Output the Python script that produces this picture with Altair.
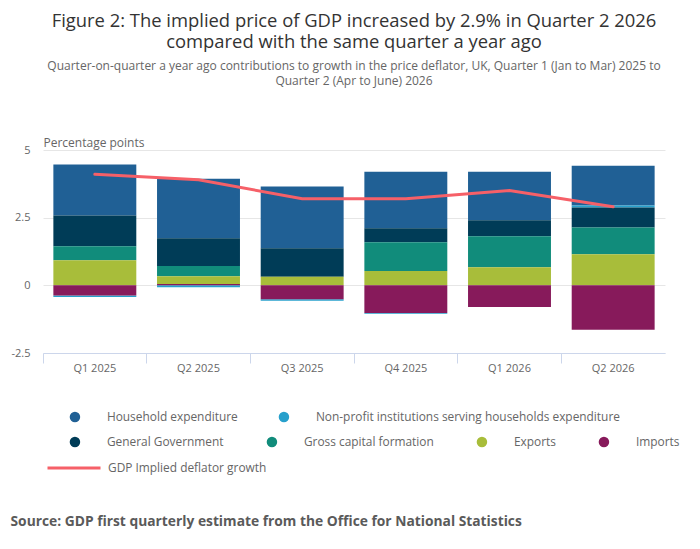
import altair as alt
import pandas as pd

quarters = ["Q1 2025", "Q2 2025", "Q3 2025", "Q4 2025", "Q1 2026", "Q2 2026"]
household = [1.88, 2.20, 2.28, 2.09, 1.80, 1.47]
npish = [-0.05, -0.07, -0.06, -0.03, 0.0, 0.07]
government = [1.14, 1.03, 1.05, 0.52, 0.59, 0.74]
gcf = [0.51, 0.37, 0.0, 1.06, 1.14, 0.99]
exports = [0.93, 0.29, 0.32, 0.53, 0.67, 1.15]
imports = [-0.38, 0.05, -0.51, -1.02, -0.80, -1.64]
deflator = [4.1, 3.9, 3.2, 3.2, 3.5, 2.9]

series_names = [
    "Household expenditure",
    "Non-profit institutions serving households expenditure",
    "General Government",
    "Gross capital formation",
    "Exports",
    "Imports",
]
series_values = [household, npish, government, gcf, exports, imports]
series_colors = ["#206095", "#27a0cc", "#003c57", "#118c7b", "#a8bd3a", "#871a5b"]
stack_rank = [5, 4, 3, 2, 1, 0]
line_name = "GDP Implied deflator growth"

rows = []
for name, vals, rank in zip(series_names, series_values, stack_rank):
    for q, v in zip(quarters, vals):
        rows.append({"quarter": q, "series": name, "value": v, "rank": rank})
bars_df = pd.DataFrame(rows)
line_df = pd.DataFrame({"quarter": quarters, "value": deflator, "series": line_name})

FONT = "Open Sans"
LABEL_COLOR = "#666666"

xscale = alt.Scale(domain=quarters, paddingInner=0, paddingOuter=0)
yscale = alt.Scale(domain=[-2.5, 5], nice=False)

legend_common = dict(orient="none", direction="horizontal", title=None,
                     symbolType="circle", symbolSize=110,
                     symbolStrokeWidth=0, symbolOpacity=1, labelOffset=26,
                     labelFont=FONT, labelFontSize=11.9, labelColor=LABEL_COLOR,
                     labelLimit=400, padding=0)

bars = alt.Chart(bars_df).mark_bar(width=alt.RelativeBandSize(0.8)).encode(
    x=alt.X("quarter:N", scale=xscale, sort=quarters,
            axis=alt.Axis(orient="bottom", title=None, ticks=False, domain=True,
                          domainColor="#ccd6eb", domainWidth=1, labelAngle=0,
                          labelFont=FONT, labelFontSize=11, labelColor=LABEL_COLOR,
                          labelPadding=9, grid=False)),
    y=alt.Y("value:Q", scale=yscale, stack="zero",
            axis=alt.Axis(values=[-2.5, 0, 2.5, 5], labelExpr="'' + datum.value",
                          grid=True, gridColor="#e6e6e6", gridWidth=1,
                          domain=False, ticks=False, labelPadding=13,
                          labelFont=FONT, labelFontSize=11, labelColor=LABEL_COLOR,
                          title="Percentage points", titleAngle=0, titleAlign="left",
                          titleAnchor="start", titleX=0, titleY=-4,
                          titleBaseline="alphabetic",
                          titleFont=FONT, titleFontSize=12, titleFontWeight="normal",
                          titleColor=LABEL_COLOR)),
    color=alt.Color("series:N",
                    scale=alt.Scale(domain=series_names, range=series_colors),
                    legend=alt.Legend(values=series_names[2:], legendX=26, legendY=286,
                                      columnPadding=42, **legend_common)),
    order=alt.Order("rank:Q", sort="ascending"),
)

# invisible layer that carries the first legend row
legend_row1 = alt.Chart(bars_df).mark_circle(size=0, opacity=0).encode(
    x=alt.X("quarter:N", scale=xscale, sort=quarters, axis=None),
    y=alt.Y("value:Q", scale=yscale, axis=None),
    fill=alt.Fill("series:N",
                  scale=alt.Scale(domain=series_names[:2], range=series_colors[:2]),
                  legend=alt.Legend(legendX=26, legendY=261, columnPadding=40,
                                    **legend_common)),
).transform_filter(
    alt.FieldOneOfPredicate(field="series", oneOf=series_names[:2])
)

line = alt.Chart(line_df).mark_line(strokeWidth=3, strokeCap="round").encode(
    x=alt.X("quarter:N", scale=xscale, sort=quarters,
            axis=alt.Axis(orient="bottom", labels=False, ticks=True, tickSize=10,
                          tickColor="#ccd6eb", tickWidth=1, bandPosition=0,
                          domain=False, grid=False,
                          title="Source: GDP first quarterly estimate from the Office for National Statistics",
                          titleAnchor="start", titleAlign="left", titleX=-33, titleY=172,
                          titleBaseline="alphabetic",
                          titleFont=FONT, titleFontSize=13.8, titleFontWeight="bold",
                          titleColor="#5a5a5a")),
    y=alt.Y("value:Q", scale=yscale, axis=None),
    stroke=alt.Stroke("series:N",
                      scale=alt.Scale(domain=[line_name], range=["#f66068"]),
                      legend=alt.Legend(orient="none", legendX=3, legendY=290,
                                        title=None, symbolType="stroke",
                                        symbolSize=2809, symbolStrokeWidth=3,
                                        labelOffset=6, labelFont=FONT,
                                        labelFontSize=11.9, labelColor=LABEL_COLOR,
                                        padding=0)),
)

chart = alt.layer(bars, legend_row1, line).resolve_axis(
    x="independent", y="independent"
).resolve_legend(
    color="independent", fill="independent", stroke="independent"
).resolve_scale(
    color="independent", fill="independent", stroke="independent"
).properties(
    width=622,
    height=203,
    padding={"left": 2, "top": 3, "right": 5, "bottom": 5},
    title=alt.TitleParams(
        text=["Figure 2: The implied price of GDP increased by 2.9% in Quarter 2 2026",
              "compared with the same quarter a year ago"],
        subtitle=["Quarter-on-quarter a year ago contributions to growth in the price deflator, UK, Quarter 1 (Jan to Mar) 2025 to",
                  "Quarter 2 (Apr to June) 2026"],
        font=FONT, fontSize=18.4, fontWeight="normal", color="#333333",
        lineHeight=21, subtitleFont=FONT, subtitleFontSize=12,
        subtitleColor=LABEL_COLOR, subtitleLineHeight=15, subtitlePadding=10,
        anchor="middle", offset=49,
    ),
).configure_view(stroke=None)

chart.save("out.html", embed_options={"renderer": "svg", "actions": False})
